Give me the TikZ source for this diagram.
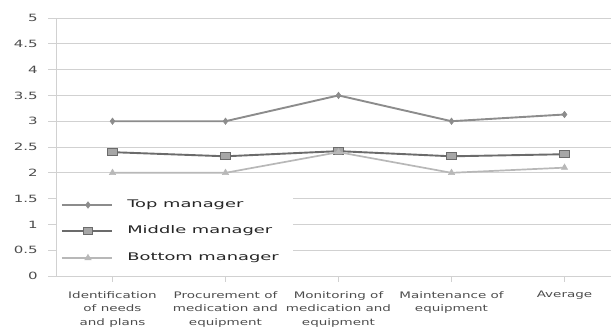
\documentclass[tikz,border=0pt]{standalone}
\usepackage{fontspec}
\newfontfamily\chartfont[FakeStretch=1.5]{DejaVu Sans}
\newfontfamily\legendfont[FakeStretch=1.7]{DejaVu Sans}
\usetikzlibrary{plotmarks}
\definecolor{gridgray}{gray}{0.82}
\definecolor{topgray}{gray}{0.55}
\definecolor{midgray}{gray}{0.42}
\definecolor{botgray}{gray}{0.72}
\definecolor{textgray}{gray}{0.3}
\definecolor{leggray}{gray}{0.15}
\begin{document}
\begin{tikzpicture}[x=113pt, y=51.6pt,
    grid/.style={gridgray, line width=0.8pt},
    topline/.style={topgray, line width=1.9pt, mark size=3.2pt, mark options={fill=topgray, draw=topgray, line width=0.6pt}},
    midline/.style={midgray, line width=1.9pt, mark size=3.6pt, mark options={fill=gray!70, draw=midgray, line width=0.8pt, xscale=1.3}},
    botline/.style={botgray, line width=1.7pt, mark size=3.6pt, mark options={fill=botgray, draw=botgray, line width=0.6pt}},
    ylab/.style={left, textgray, font=\chartfont\fontsize{10}{12}\selectfont},
    catlab/.style={below, align=center, textgray, inner sep=0pt, font=\chartfont\fontsize{9}{13.5}\selectfont},
    leglab/.style={right, leggray, font=\legendfont\fontsize{10.5}{12}\selectfont}]
\useasboundingbox (-0.4956,-1.066) rectangle (4.9115,5.349);
% grid and axis
\foreach \y in {0,0.5,1,1.5,2,2.5,3,3.5,4,4.5,5}{
    \draw[grid] (-0.07,\y) -- (4.92,\y);
    \node[ylab] at (-0.13,\y) {\y};
}
\draw[grid] (0,0) -- (0,5);
\foreach \x in {0.5,1.5,2.5,3.5,4.5}
    \draw[grid] (\x,0) -- (\x,-0.12);
% categories
\node[catlab] at (0.5,-0.29) {Identification\\of needs\\and plans};
\node[catlab] at (1.5,-0.29) {Procurement of\\medication and\\equipment};
\node[catlab] at (2.5,-0.29) {Monitoring of\\medication and\\equipment};
\node[catlab] at (3.5,-0.29) {Maintenance of\\equipment};
\node[catlab] at (4.5,-0.29) {Average};
% data
\draw[topline] plot[mark=diamond*] coordinates {(0.5,3) (1.5,3) (2.5,3.5) (3.5,3) (4.5,3.13)};
\draw[midline] plot[mark=square*] coordinates {(0.5,2.4) (1.5,2.32) (2.5,2.42) (3.5,2.32) (4.5,2.36)};
\draw[botline] plot[mark=triangle*] coordinates {(0.5,2) (1.5,2) (2.5,2.4) (3.5,2) (4.5,2.1)};
% legend
\fill[white] (0.01,0.12) rectangle (2.1,1.73);
\draw[topline] (0.053,1.376) -- (0.496,1.376);
\draw[topline] plot[mark=diamond*, only marks] coordinates {(0.283,1.376)};
\node[leglab] at (0.6,1.376) {Top manager};
\draw[midline] (0.053,0.872) -- (0.496,0.872);
\draw[midline] plot[mark=square*, only marks] coordinates {(0.283,0.872)};
\node[leglab] at (0.6,0.872) {Middle manager};
\draw[botline] (0.053,0.349) -- (0.496,0.349);
\draw[botline] plot[mark=triangle*, only marks] coordinates {(0.283,0.349)};
\node[leglab] at (0.6,0.349) {Bottom manager};
\end{tikzpicture}
\end{document}
